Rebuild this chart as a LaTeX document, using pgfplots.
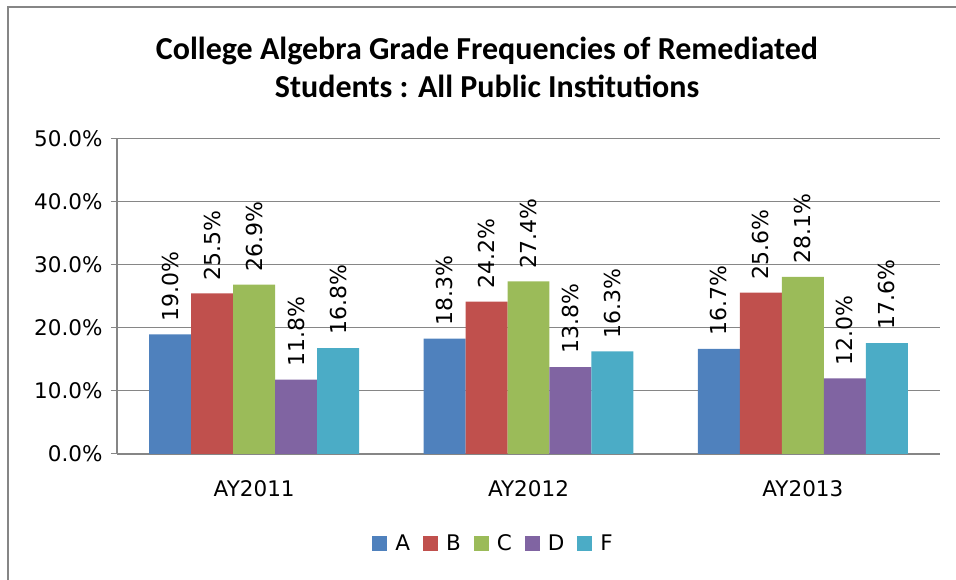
\documentclass[border=0pt]{standalone}
\usepackage{pgfplots}
\pgfplotsset{compat=1.18}
\usepackage{fontspec}
\setmainfont{DejaVu Sans}
\newfontfamily\titlefont{Carlito}
\definecolor{cA}{HTML}{4F81BD}
\definecolor{cB}{HTML}{C0504D}
\definecolor{cC}{HTML}{9BBB59}
\definecolor{cD}{HTML}{8064A2}
\definecolor{cF}{HTML}{4BACC6}
\definecolor{gridc}{HTML}{868686}
\begin{document}
\begin{tikzpicture}
\begin{axis}[
  name=ax, anchor=south west,
  scale only axis, width=823bp, height=315bp,
  ybar=0pt, bar width=0.153,
  xmin=-0.5, xmax=2.5, ymin=0, ymax=50,
  xtick={0,1,2}, xticklabels={AY2011,AY2012,AY2013},
  extra x ticks={-0.5,0.5,1.5,2.5}, extra x tick labels={},
  extra x tick style={major tick length=7bp, tick style={gridc, line width=1bp}, tick align=outside},
  x tick style={draw=none},
  ytick={0,10,20,30,40,50},
  ymajorgrids, grid style={gridc, line width=1bp},
  axis x line*=bottom, axis y line*=left,
  axis line style={gridc, line width=1.5bp, -},
  y tick style={gridc, line width=1bp}, tick align=outside, major tick length=6bp,
  /pgf/number format/assume math mode=true,
  yticklabel={\pgfmathprintnumber[fixed,fixed zerofill,precision=1]{\tick}\%},
  tick label style={font=\fontsize{21.5bp}{25bp}\selectfont},
  yticklabel style={xshift=-5bp},
  xticklabel style={yshift=-17bp},
  nodes near coords={\pgfmathprintnumber[fixed,fixed zerofill,precision=1,assume math mode=true]{\pgfplotspointmeta}\%},
  every node near coord/.append style={font=\fontsize{22bp}{25bp}\selectfont, rotate=90, anchor=west, inner xsep=13bp, text=black},
  legend columns=-1,
  legend style={at={(0.4575,-0.283)}, anchor=center, draw=none, font=\fontsize{21.5bp}{25bp}\selectfont,
    /tikz/every even column/.append style={column sep=11bp},
    /tikz/every odd column/.append style={column sep=6bp}},
  legend image code/.code={\fill[#1] (0bp,-7.5bp) rectangle (15bp,7.5bp);},
]
\addplot[fill=cA, draw=none] coordinates {(0,19.0) (1,18.3) (2,16.7)};
\addplot[fill=cB, draw=none] coordinates {(0,25.5) (1,24.2) (2,25.6)};
\addplot[fill=cC, draw=none] coordinates {(0,26.9) (1,27.4) (2,28.1)};
\addplot[fill=cD, draw=none] coordinates {(0,11.8) (1,13.8) (2,12.0)};
\addplot[fill=cF, draw=none] coordinates {(0,16.8) (1,16.3) (2,17.6)};
\legend{A,B,C,D,F}
\end{axis}
\begin{scope}[shift={(ax.south west)}, x=1bp, y=1bp, shift={(-117,-126)}]
\draw[gridc, line width=1.5bp] (8,0) -- (8,573) -- (956,573);
\node[font=\titlefont\bfseries\fontsize{32bp}{38bp}\selectfont, align=center, anchor=center] at (487,513) {College Algebra Grade Frequencies of Remediated\\Students : All Public Institutions};
\pgfresetboundingbox
\useasboundingbox (0,0) rectangle (956,580);
\end{scope}
\end{tikzpicture}
\end{document}
